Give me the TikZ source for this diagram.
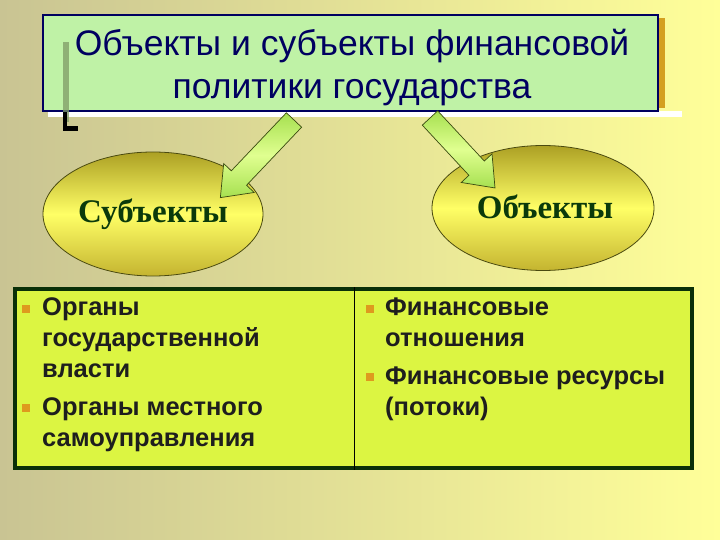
\documentclass[tikz,border=0pt]{standalone}
\usepackage{fontspec}
\setmainfont{Liberation Sans}
\newfontfamily\serifb{Liberation Serif}
\usetikzlibrary{shapes.geometric}
\definecolor{bgL}{HTML}{C9C493}
\definecolor{bgR}{HTML}{FFFF99}
\definecolor{titlefill}{HTML}{BFF2A6}
\definecolor{navy}{HTML}{000060}
\definecolor{goldsh}{HTML}{D4A020}
\definecolor{graybar}{HTML}{7F9A66}
\definecolor{elltop}{HTML}{ACA024}
\definecolor{ellmid}{HTML}{FFFF66}
\definecolor{ellbot}{HTML}{C4B430}
\definecolor{ellline}{HTML}{4A4A10}
\definecolor{elltext}{HTML}{0B3A0B}
\definecolor{arrowside}{HTML}{A6E050}
\definecolor{arrowmid}{HTML}{E0FF90}
\definecolor{arrowline}{HTML}{3A4A10}
\definecolor{boxfill}{HTML}{DCF542}
\definecolor{boxline}{HTML}{0A3008}
\definecolor{bulletc}{HTML}{DE9A1E}
\definecolor{itemtext}{HTML}{1E1E1E}
\tikzset{
  ellnode/.style={ellipse, draw=ellline, line width=0.8pt, top color=elltop, bottom color=ellbot, middle color=ellmid, inner sep=0pt},
  elllabel/.style={font=\serifb\bfseries\fontsize{33}{36}\selectfont, text=elltext},
  blockarrow/.style={draw=arrowline, line width=0.7pt, top color=arrowside, bottom color=arrowside, middle color=arrowmid},
  itemline/.style={anchor=base west, inner sep=0pt, font=\bfseries\fontsize{25.5}{28}\selectfont, text=itemtext},
  bulletsq/.style={fill=bulletc}
}
\begin{document}
\begin{tikzpicture}[x=1pt,y=-1pt]
\useasboundingbox (0,0) rectangle (720,540);
\shade[left color=bgL, right color=bgR] (0,0) rectangle (720,540);

% title shadows
\fill[white] (48,111) rectangle (682,117);
\fill[goldsh] (659,18) rectangle (665,108);
\node[draw=navy, line width=1.6pt, fill=titlefill, minimum width=615pt, minimum height=96pt, inner sep=0pt] (title) at (350.5,63) {};
\node[align=center, text=navy, inner sep=0pt, font=\fontsize{35.5}{43}\selectfont] (titletext) at (352,68)
  {Объекты и субъекты финансовой\\политики государства};
\fill[graybar, opacity=0.75] (63,42) rectangle (69,122);
\fill[black] (63,112) rectangle (67,131);
\fill[black] (63,126) rectangle (78,131);

% ellipses
\node[ellnode, minimum width=220pt, minimum height=124pt] (subj) at (153,214) {};
\node[elllabel] (subjt) at (153,214) {Субъекты};
\node[ellnode, minimum width=222pt, minimum height=125pt] (obj) at (543,208) {};
\node[elllabel] (objt) at (545,207) {Объекты};

% block arrows
\begin{scope}[shift={(294,120)}, rotate=-133.5]
  \shade[blockarrow] (0,-10.5) -- (80,-10.5) -- (80,-21) -- (107,0) -- (80,21) -- (80,10.5) -- (0,10.5) -- cycle;
\end{scope}
\begin{scope}[shift={(430,118)}, rotate=-47.1]
  \shade[blockarrow] (0,-10.5) -- (68.5,-10.5) -- (68.5,-21) -- (95.5,0) -- (68.5,21) -- (68.5,10.5) -- (0,10.5) -- cycle;
\end{scope}

% bottom box
\node[draw=boxline, line width=4pt, fill=boxfill, minimum width=677pt, minimum height=179pt, inner sep=0pt] (box) at (353.5,378.5) {};
\draw[black, line width=0.6pt] ([xshift=0.5pt]box.north) -- ([xshift=0.5pt]box.south);

% left column
\fill[bulletsq] (22,305) rectangle (30,313);
\node[itemline] (l1) at (42,315) {Органы};
\node[itemline] (l2) at (42,346) {государственной};
\node[itemline] (l3) at (42,377) {власти};
\fill[bulletsq] (22,404) rectangle (30,412);
\node[itemline] (l4) at (42,415) {Органы местного};
\node[itemline] (l5) at (42,446) {самоуправления};

% right column
\fill[bulletsq] (366,305) rectangle (374,313);
\node[itemline] (r1) at (385,315) {Финансовые};
\node[itemline] (r2) at (385,346) {отношения};
\fill[bulletsq] (366,373) rectangle (374,381);
\node[itemline] (r3) at (385,384) {Финансовые ресурсы};
\node[itemline] (r4) at (385,415) {(потоки)};
\end{tikzpicture}
\end{document}
